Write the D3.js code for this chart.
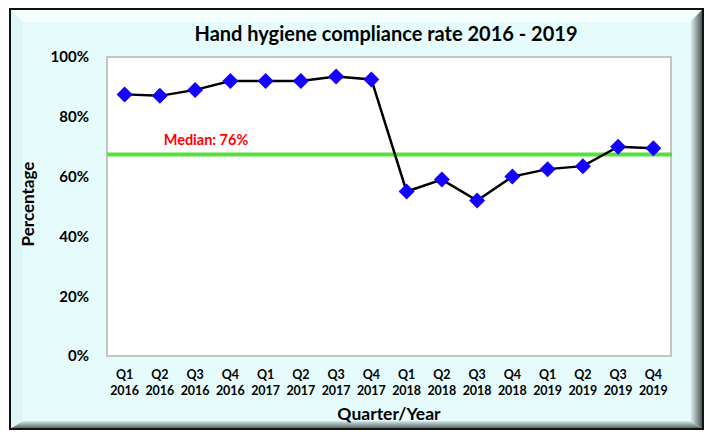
<!DOCTYPE html>
<html>
<head>
<meta charset="utf-8">
<script src="https://cdn.jsdelivr.net/npm/d3@7"></script>
<style>
  body { margin: 0; background: #fff; }
  text { font-family: Lato, "Open Sans", sans-serif; font-weight: bold; }
</style>
</head>
<body>
<svg id="chart" width="705" height="434"></svg>
<script>
const quarters = ['Q1', 'Q2', 'Q3', 'Q4', 'Q1', 'Q2', 'Q3', 'Q4', 'Q1', 'Q2', 'Q3', 'Q4', 'Q1', 'Q2', 'Q3', 'Q4']
const years = ['2016', '2016', '2016', '2016', '2017', '2017', '2017', '2017', '2018', '2018', '2018', '2018', '2019', '2019', '2019', '2019']
const compliance = [87.5, 87, 89, 92, 92, 92, 93.5, 92.5, 55, 59, 52, 60, 62.5, 63.5, 70, 69.5]
const medianLine = 67.4
const medianLabel = 'Median: 76%'
const yTicks = [0, 20, 40, 60, 80, 100]

const svg = d3.select('#chart')
const W = 705, H = 434

// frame with bevel
const fx0 = 10, fy0 = 9, fx1 = 703, fy1 = 429, bv = 13
const defs = svg.append('defs')
const gR = defs.append('linearGradient').attr('id', 'gR').attr('x1', 0).attr('x2', 1).attr('y1', 0).attr('y2', 0)
gR.append('stop').attr('offset', 0).attr('stop-color', '#e6fbfb')
gR.append('stop').attr('offset', 1).attr('stop-color', '#3f4a4a')
const gB = defs.append('linearGradient').attr('id', 'gB').attr('x1', 0).attr('x2', 0).attr('y1', 0).attr('y2', 1)
gB.append('stop').attr('offset', 0).attr('stop-color', '#d6eaea')
gB.append('stop').attr('offset', 1).attr('stop-color', '#4a5555')

svg.append('rect').attr('x', fx0).attr('y', fy0).attr('width', fx1 - fx0).attr('height', fy1 - fy0)
    .attr('fill', '#e6fcfc')
// top bevel (light)
svg.append('polygon')
    .attr('points', [[fx0, fy0], [fx1, fy0], [fx1 - bv, fy0 + bv], [fx0 + bv, fy0 + bv]].join(' '))
    .attr('fill', '#f4ffff')
// left bevel
svg.append('polygon')
    .attr('points', [[fx0, fy0], [fx0 + bv, fy0 + bv], [fx0 + bv, fy1 - 8], [fx0, fy1]].join(' '))
    .attr('fill', '#dff6f6')
// bottom bevel
svg.append('polygon')
    .attr('points', [[fx0, fy1], [fx0 + bv, fy1 - 8], [fx1 - bv, fy1 - 8], [fx1, fy1]].join(' '))
    .attr('fill', 'url(#gB)')
// right bevel
svg.append('polygon')
    .attr('points', [[fx1, fy0], [fx1, fy1], [fx1 - bv, fy1 - 8], [fx1 - bv, fy0 + bv]].join(' '))
    .attr('fill', 'url(#gR)')
svg.append('rect').attr('x', fx0).attr('y', fy0).attr('width', fx1 - fx0).attr('height', fy1 - fy0)
    .attr('fill', 'none').attr('stroke', '#111').attr('stroke-width', 2)

const margin = { top: 57, right: 34, bottom: 78, left: 107 }
const width = W - margin.left - margin.right
const plotH = 299

const g = svg.append('g').attr('transform', `translate(${margin.left},${margin.top})`)

const x = d3.scaleBand().domain(d3.range(compliance.length)).range([0, width])
const y = d3.scaleLinear().domain([0, 100]).range([plotH, 0])

g.append('rect').attr('width', width).attr('height', plotH)
    .attr('fill', '#fff').attr('stroke', '#c4c4c4').attr('stroke-width', 2)

// title
svg.append('text').attr('x', 386).attr('y', 41).attr('text-anchor', 'middle')
    .attr('font-size', 20).attr('fill', '#000').text('Hand hygiene compliance rate 2016 - 2019')

// y axis
const yAxis = g.append('g').call(d3.axisLeft(y).tickValues(yTicks).tickFormat(d => d + '%').tickSize(0).tickPadding(18))
yAxis.select('.domain').remove()
yAxis.selectAll('text').attr('font-size', 15).attr('fill', '#000')
    .style('font-family', 'Lato, sans-serif').style('font-weight', 'bold')

// x axis (two line labels)
const xAxis = g.append('g').attr('transform', `translate(0,${plotH})`)
    .call(d3.axisBottom(x).tickFormat('').tickSize(0))
xAxis.select('.domain').remove()
xAxis.selectAll('.tick').each(function (d) {
    const t = d3.select(this).append('text').attr('text-anchor', 'middle')
        .attr('font-size', 12.5).attr('fill', '#000')
    t.append('tspan').attr('x', 0).attr('y', 23).text(quarters[d])
    t.append('tspan').attr('x', 0).attr('y', 39).text(years[d])
})

svg.append('text').attr('x', 389).attr('y', 420).attr('text-anchor', 'middle')
    .attr('font-size', 17.5).attr('fill', '#000').text('Quarter/Year')
svg.append('text').attr('transform', 'translate(34,204) rotate(-90)').attr('text-anchor', 'middle')
    .attr('font-size', 17).attr('fill', '#000').text('Percentage')

// median line
g.append('line').attr('x1', 0).attr('x2', width + 1)
    .attr('y1', y(medianLine)).attr('y2', y(medianLine))
    .attr('stroke', '#55e03c').attr('stroke-width', 4)
g.append('text').attr('x', 99).attr('y', y(medianLine) - 9)
    .attr('text-anchor', 'middle').attr('font-size', 14.5).attr('fill', '#ff0000').text(medianLabel)

// data line
const line = d3.line().x((d, i) => x(i) + x.bandwidth() / 2).y(d => y(d))
g.append('path').datum(compliance).attr('d', line)
    .attr('fill', 'none').attr('stroke', '#000').attr('stroke-width', 2.5)

g.selectAll('.pt').data(compliance).enter().append('path')
    .attr('class', 'pt')
    .attr('transform', (d, i) => `translate(${x(i) + x.bandwidth() / 2},${y(d)})`)
    .attr('d', 'M0,-8L8,0L0,8L-8,0Z')
    .attr('fill', '#1400ff')
</script>
</body>
</html>
